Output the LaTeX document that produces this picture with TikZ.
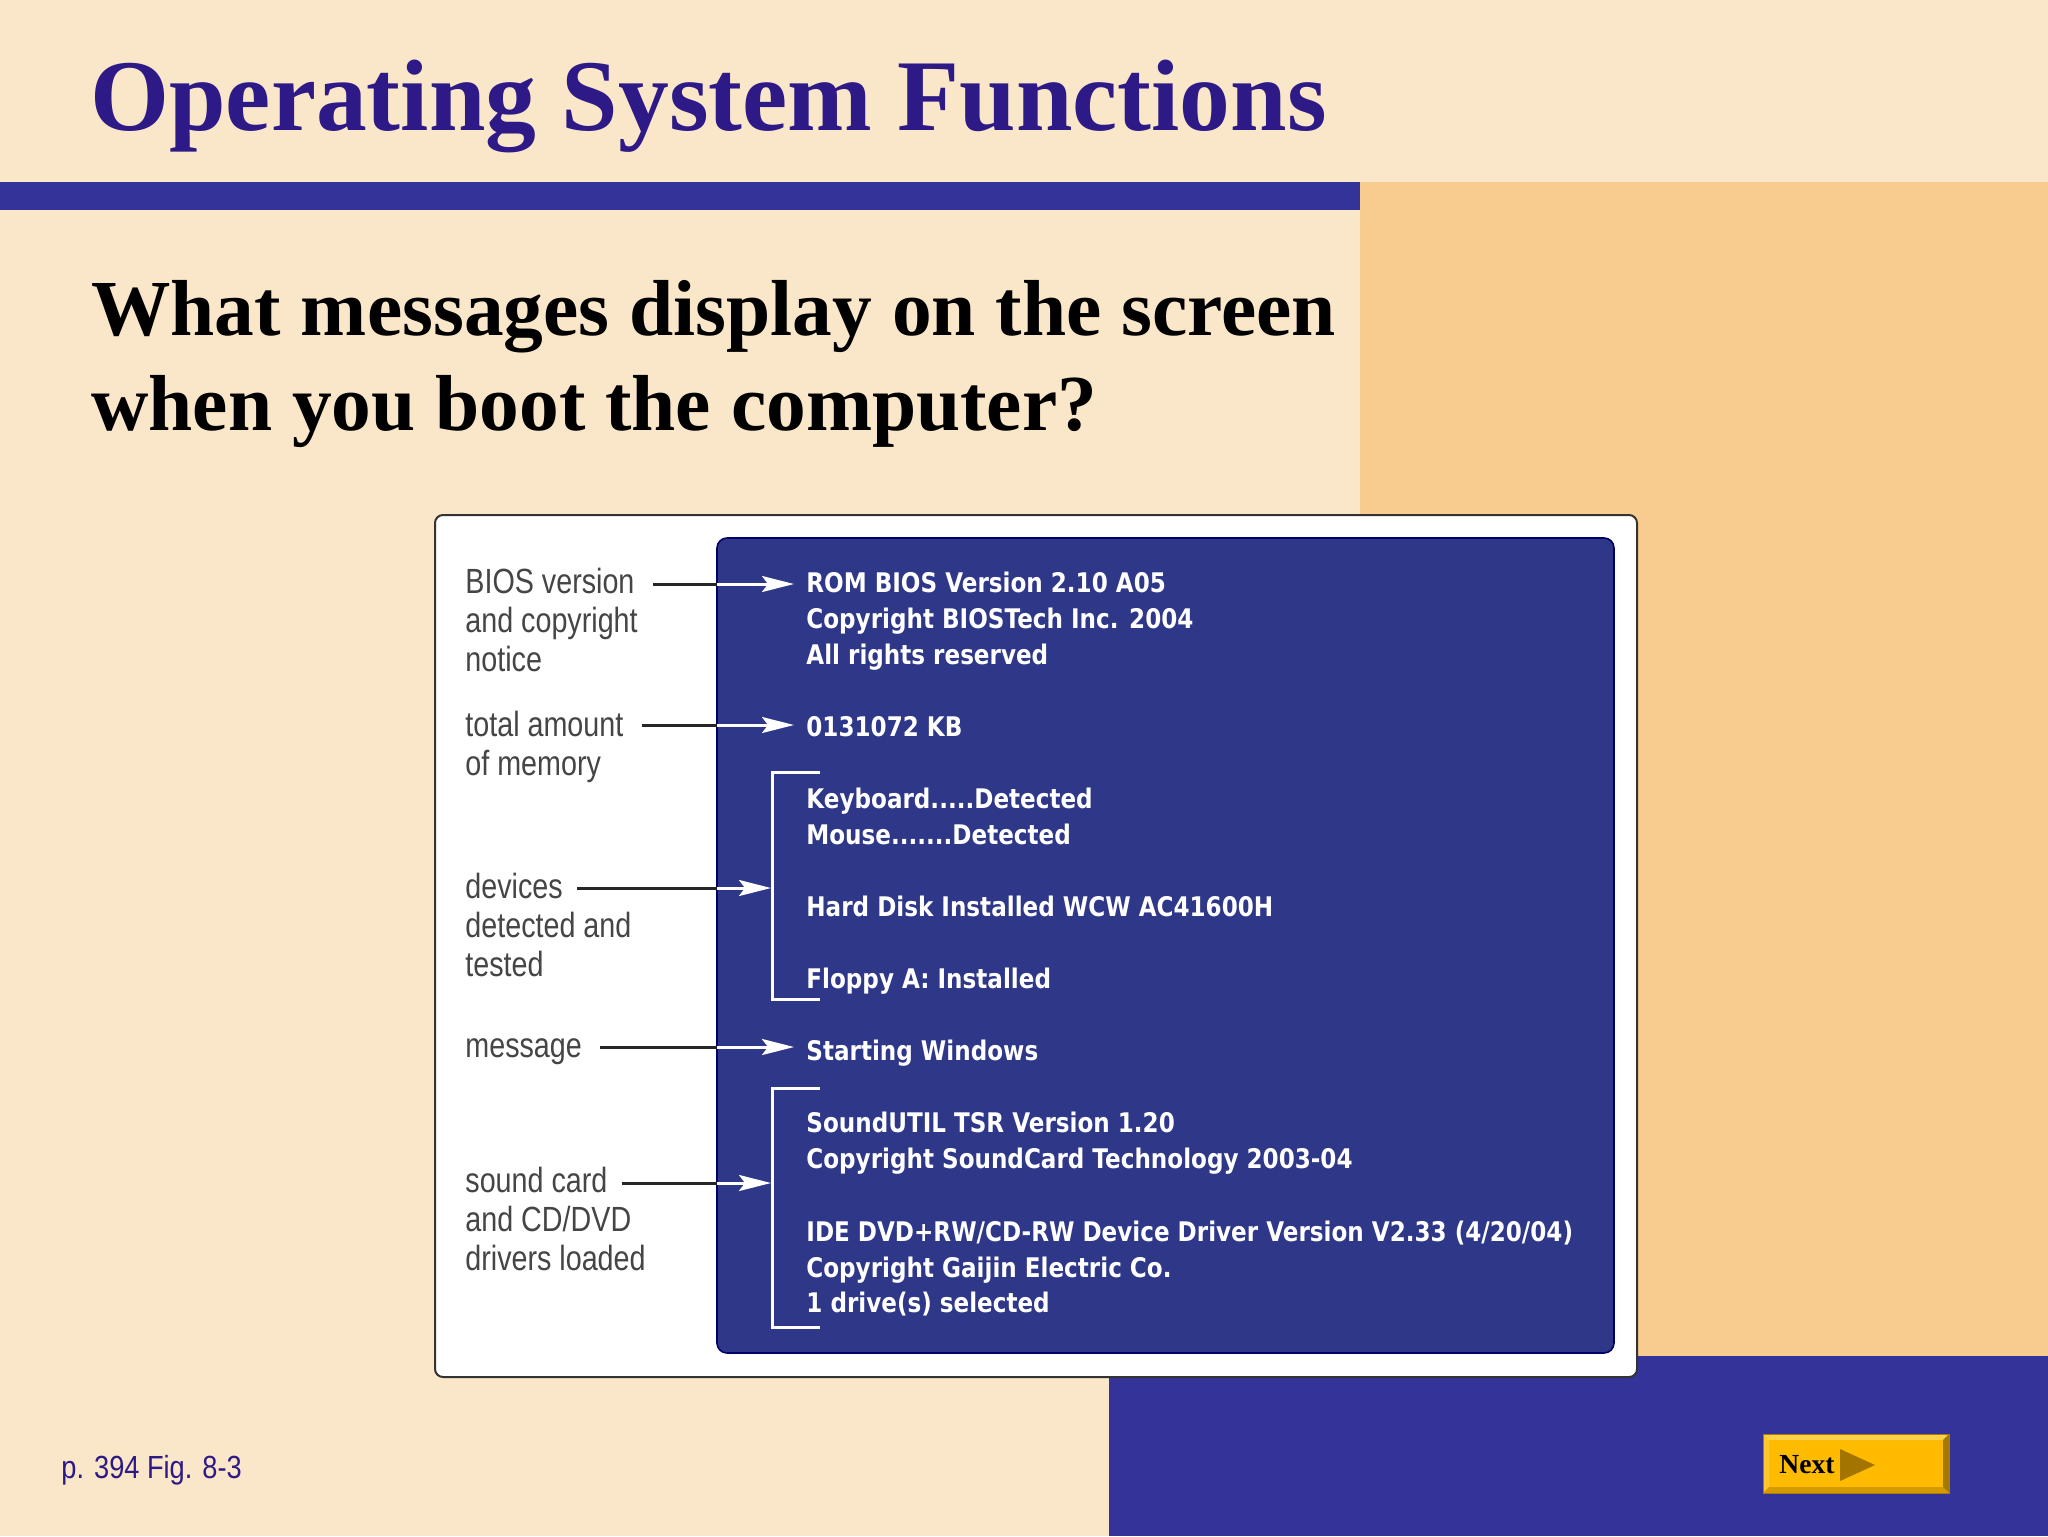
\documentclass[tikz,border=0pt]{standalone}
\usepackage{fontspec}
\setmainfont{Liberation Serif}
\newfontfamily\labelfont[FakeStretch=0.82]{Liberation Sans}
\newfontfamily\screenfont[FakeStretch=0.855]{DejaVu Sans}
\newfontfamily\footfont[FakeStretch=0.85]{Liberation Sans}
\usetikzlibrary{arrows.meta}
\definecolor{cream}{HTML}{FAE6C8}
\definecolor{orangebg}{HTML}{F8CB8E}
\definecolor{barblue}{HTML}{333399}
\definecolor{titlepurple}{HTML}{2E1A87}
\definecolor{screenblue}{HTML}{2E3788}
\definecolor{labelgray}{HTML}{454545}
\definecolor{btnyellow}{HTML}{FFBB00}
\definecolor{btnlight}{HTML}{FFD04A}
\definecolor{btnleft}{HTML}{FFC82E}
\definecolor{btnbottom}{HTML}{D49A00}
\definecolor{btnright}{HTML}{A57800}
\definecolor{btntri}{HTML}{A37500}
\tikzset{
  labelline/.style={anchor=base west, inner sep=0pt, text=labelgray,
    font=\labelfont\fontsize{17.5}{20}\selectfont},
  screenline/.style={anchor=base west, inner sep=0pt, text=white,
    font=\screenfont\bfseries\fontsize{13.5}{16}\selectfont},
  blackline/.style={line width=1.5pt, black!85},
  whitearrow/.style={line width=1.5pt, white, -{Stealth[length=16pt,width=8pt,inset=3pt]}},
  bracketline/.style={line width=1.5pt, white},
}
\begin{document}
\begin{tikzpicture}[x=0.5pt,y=-0.5pt]
\useasboundingbox (0,0) rectangle (2048,1536);
% background
\fill[cream] (0,0) rectangle (2048,1536);
\fill[orangebg] (1360,182) rectangle (2048,1357);
\fill[barblue] (1109,1356) rectangle (2048,1536);
\fill[barblue] (0,182) rectangle (1360,210);
% title
\node[anchor=base west, inner sep=0pt, text=titlepurple,
  font=\bfseries\fontsize{50.8}{60}\selectfont] (title) at (90,131) {Operating System Functions};
\node[anchor=base west, inner sep=0pt, text=black,
  font=\bfseries\fontsize{39.7}{47}\selectfont] (sub1) at (91,335) {What messages display on the screen};
\node[anchor=base west, inner sep=0pt, text=black,
  font=\bfseries\fontsize{39.7}{47}\selectfont] (sub2) at (91,430) {when you boot the computer?};
% figure frame
\draw[fill=white, draw=black!80, line width=1pt, rounded corners=4pt] (435,515) rectangle (1637,1377);
\draw[fill=screenblue, draw=black!60!blue, line width=0.8pt, rounded corners=5pt] (717,538) rectangle (1614,1353);
% labels
\node[labelline] (bios1) at (465,593) {BIOS version};
\node[labelline] (bios2) at (465,632) {and copyright};
\node[labelline] (bios3) at (465,671) {notice};
\node[labelline] (mem1) at (465,736) {total amount};
\node[labelline] (mem2) at (465,775) {of memory};
\node[labelline] (dev1) at (465,898) {devices};
\node[labelline] (dev2) at (465,937) {detected and};
\node[labelline] (dev3) at (465,976) {tested};
\node[labelline] (msg1) at (465,1057) {message};
\node[labelline] (snd1) at (465,1192) {sound card};
\node[labelline] (snd2) at (465,1231) {and CD/DVD};
\node[labelline] (snd3) at (465,1270) {drivers loaded};
% screen text
\node[screenline] (l1) at (806,592) {ROM BIOS Version 2.10 A05};
\node[screenline] (l2) at (806,628) {Copyright BIOSTech Inc. 2004};
\node[screenline] (l3) at (806,664) {All rights reserved};
\node[screenline] (l4) at (806,736) {0131072 KB};
\node[screenline] (l5) at (806,808) {Keyboard.....Detected};
\node[screenline] (l6) at (806,844) {Mouse.......Detected};
\node[screenline] (l7) at (806,916) {Hard Disk Installed WCW AC41600H};
\node[screenline] (l8) at (806,988) {Floppy A: Installed};
\node[screenline] (l9) at (806,1060) {Starting Windows};
\node[screenline] (l10) at (806,1132) {SoundUTIL TSR Version 1.20};
\node[screenline] (l11) at (806,1168) {Copyright SoundCard Technology 2003-04};
\node[screenline] (l12) at (806,1241) {IDE DVD+RW/CD-RW Device Driver Version V2.33 (4/20/04)};
\node[screenline] (l13) at (806,1277) {Copyright Gaijin Electric Co.};
\node[screenline] (l14) at (806,1312) {1 drive(s) selected};
% brackets
\coordinate (bd1) at (820,772); \coordinate (bd2) at (772,772);
\coordinate (bd3) at (772,999); \coordinate (bd4) at (820,999);
\draw[bracketline] (bd1) -- (bd2) -- (bd3) -- (bd4);
\coordinate (bs1) at (820,1088); \coordinate (bs2) at (772,1088);
\coordinate (bs3) at (772,1327); \coordinate (bs4) at (820,1327);
\draw[bracketline] (bs1) -- (bs2) -- (bs3) -- (bs4);
% arrows
\coordinate (e1) at (717,584); \coordinate (t1) at (794,584);
\coordinate (e2) at (717,725); \coordinate (t2) at (794,725);
\coordinate (e3) at (717,888); \coordinate (t3) at (771,888);
\coordinate (e4) at (717,1047); \coordinate (t4) at (794,1047);
\coordinate (e5) at (717,1183); \coordinate (t5) at (771,1183);
\draw[blackline] ([xshift=9pt]bios1.east |- e1) -- (e1);
\draw[whitearrow] (e1) -- (t1);
\draw[blackline] ([xshift=9pt]mem1.east |- e2) -- (e2);
\draw[whitearrow] (e2) -- (t2);
\draw[blackline] ([xshift=7pt]dev1.east |- e3) -- (e3);
\draw[whitearrow] (e3) -- (t3);
\draw[blackline] ([xshift=9pt]msg1.east |- e4) -- (e4);
\draw[whitearrow] (e4) -- (t4);
\draw[blackline] ([xshift=7pt]snd1.east |- e5) -- (e5);
\draw[whitearrow] (e5) -- (t5);
% footer
\node[anchor=base west, inner sep=0pt, text=titlepurple,
  font=\footfont\fontsize{16}{19}\selectfont] (foot) at (61,1478) {p. 394 Fig. 8-3};
% next button
\fill[btnyellow] (1763,1434) rectangle (1949,1493);
\fill[btnlight] (1763,1434) -- (1949,1434) -- (1943,1440) -- (1769,1440) -- cycle;
\fill[btnleft] (1763,1434) -- (1769,1440) -- (1769,1487) -- (1763,1493) -- cycle;
\fill[btnbottom] (1763,1493) -- (1949,1493) -- (1943,1487) -- (1769,1487) -- cycle;
\fill[btnright] (1949,1434) -- (1949,1493) -- (1943,1487) -- (1943,1440) -- cycle;
\draw[btnbottom!80!black, line width=0.4pt] (1763,1434) rectangle (1949,1493);
\node[anchor=base west, inner sep=0pt, text=black,
  font=\bfseries\fontsize{13.8}{17}\selectfont] (next) at (1779,1473) {Next};
\fill[btntri] (1840,1449) -- (1875,1465) -- (1840,1481) -- cycle;
\end{tikzpicture}
\end{document}
